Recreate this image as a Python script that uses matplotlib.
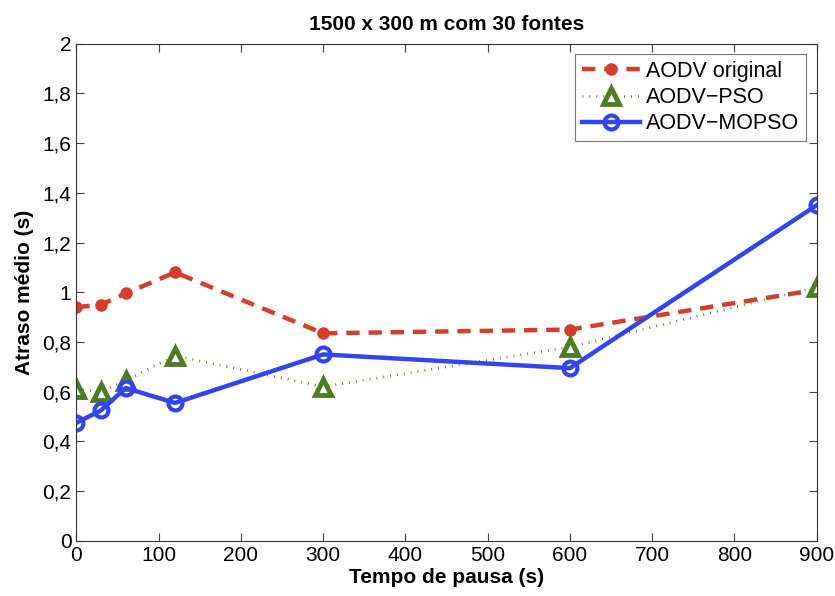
import matplotlib
matplotlib.use("Agg")
import matplotlib.pyplot as plt
from matplotlib.ticker import FuncFormatter

plt.rcParams['font.family'] = ['Liberation Sans', 'DejaVu Sans']

x = [0, 30, 60, 120, 300, 600, 900]
aodv_original = [0.94, 0.95, 0.995, 1.08, 0.835, 0.85, 1.01]
aodv_pso = [0.61, 0.60, 0.645, 0.745, 0.62, 0.78, 1.02]
aodv_mopso = [0.475, 0.525, 0.615, 0.555, 0.75, 0.695, 1.35]
labels = ['AODV original', 'AODV\u2212PSO', 'AODV\u2212MOPSO']

fig = plt.figure(figsize=(8.35, 5.96), dpi=100)
ax = fig.add_axes([0.0914, 0.0923, 0.8867, 0.8347])

ax.plot(x, aodv_original, linestyle=(0, (3, 2)), color='#d63e2a', lw=3.2,
        marker='o', markersize=8, markerfacecolor='#d63e2a', markeredgecolor='#d63e2a',
        label=labels[0])
ax.plot(x, aodv_pso, linestyle=(0, (0.3, 2.2)), color='#4d7d22', lw=2.0,
        marker='^', markersize=11, markerfacecolor='white', markeredgecolor='#4d7d22',
        markeredgewidth=3.5, label=labels[1])
ax.plot(x, aodv_mopso, linestyle='-', color='#3344f5', lw=3.2,
        marker='o', markersize=10, markerfacecolor='none', markeredgecolor='#3344f5',
        markeredgewidth=3.0, label=labels[2])

ax.set_xlim(0, 900)
ax.set_ylim(0, 2)
ax.set_xticks(range(0, 901, 100))
ax.set_yticks([i * 0.2 for i in range(11)])
ax.yaxis.set_major_formatter(FuncFormatter(lambda v, p: ('%g' % round(v, 1)).replace('.', ',')))
ax.tick_params(direction='in', top=True, right=True, labelsize=15, length=6, color='#444444')
for s in ax.spines.values():
    s.set_linewidth(0.8)
    s.set_color('#333333')

ax.set_xlabel('Tempo de pausa (s)', fontsize=15, fontweight='bold', labelpad=2)
ax.set_ylabel('Atraso médio (s)', fontsize=15, fontweight='bold', labelpad=6)
ax.set_title('1500 x 300 m com 30 fontes', fontsize=15, fontweight='bold', pad=10)

leg = ax.legend(loc='upper right', fontsize=15.5, frameon=True, fancybox=False,
                edgecolor='#555555', handlelength=2.7, borderpad=0.3, labelspacing=0.25,
                handletextpad=0.3, borderaxespad=0.5)
leg.get_frame().set_linewidth(0.8)

fig.savefig('out.png', dpi=100)
